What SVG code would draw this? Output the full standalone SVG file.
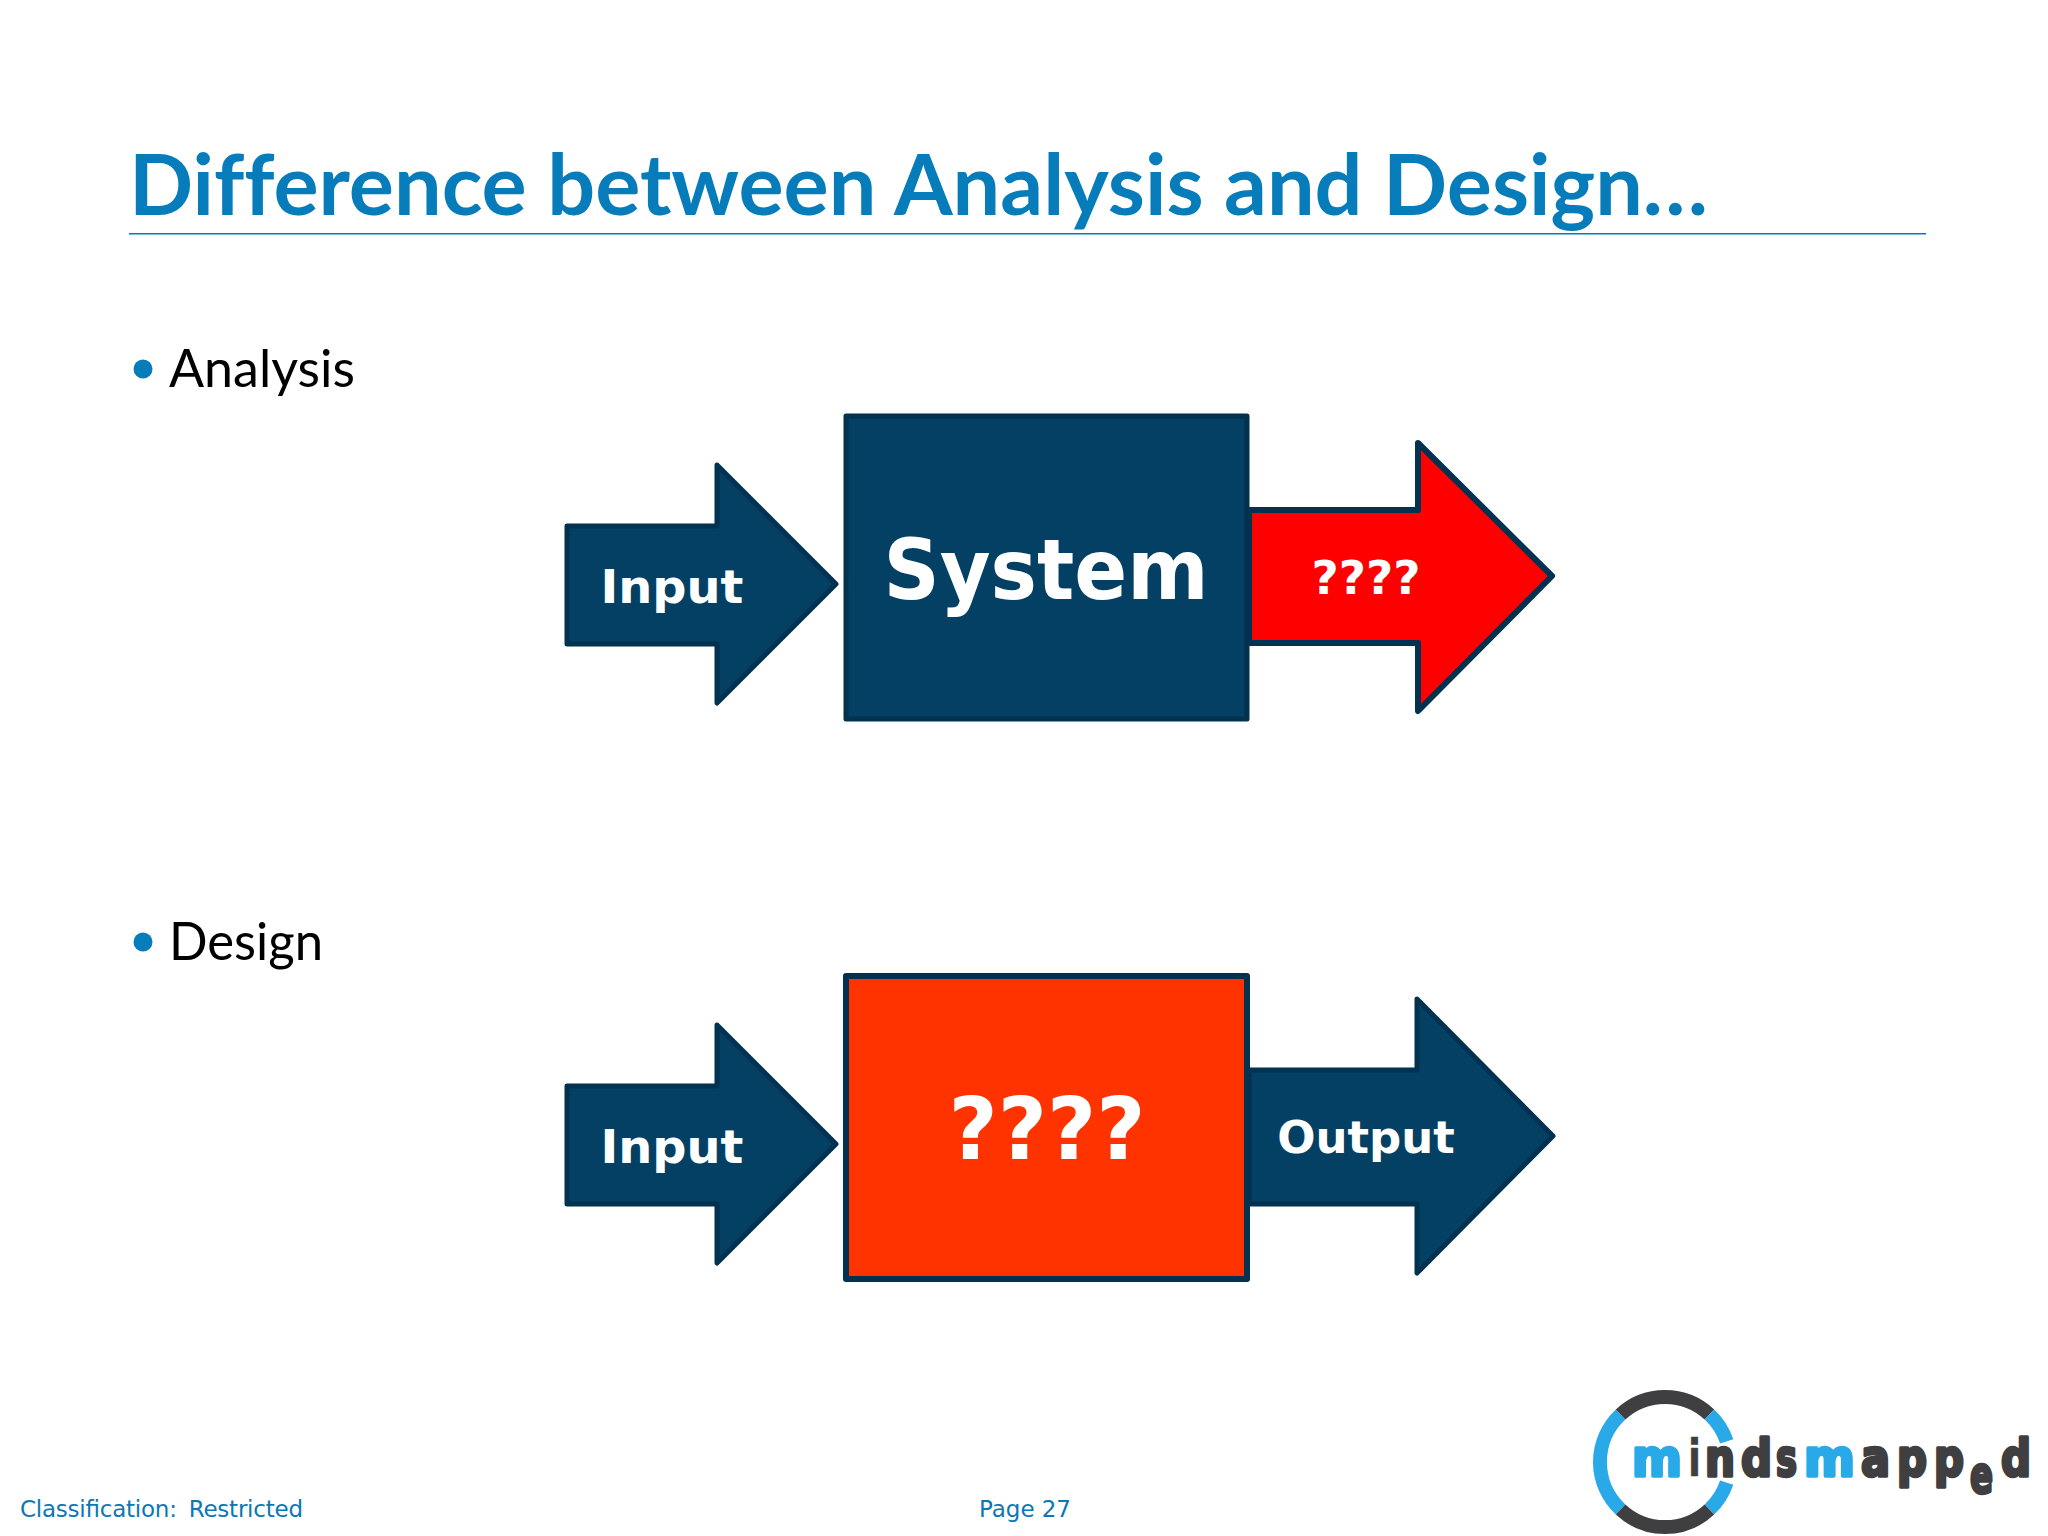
<svg xmlns="http://www.w3.org/2000/svg" width="2048" height="1536" viewBox="0 0 2048 1536">
<style>
.title{font:700 85px Lato,"Open Sans",sans-serif;fill:#067cbb;font-variant-ligatures:none}
.body{font:400 52px Lato,"Open Sans",sans-serif;fill:#000}
.foot{font:400 23px "DejaVu Sans",sans-serif;fill:#0a78b5}
.lbl{font-family:"DejaVu Sans",sans-serif;font-weight:700;fill:#fff;text-anchor:middle}
.navy{fill:#034063;stroke:#02324f;stroke-width:5;stroke-linejoin:round}
.red{fill:#ff0000;stroke:#02324f;stroke-width:6;stroke-linejoin:round}
.orange{fill:#ff3300;stroke:#02324f;stroke-width:6;stroke-linejoin:round}
.ring{fill:none;stroke-width:14}
.logo{font-family:"DejaVu Sans",sans-serif;font-weight:700;font-size:52px;stroke-width:3.5;stroke-linejoin:round}
.lb{fill:#2aa9e8;stroke:#2aa9e8}
.ld{fill:#3f3f42;stroke:#3f3f42}
</style>
<rect width="2048" height="1536" fill="#fff"/>
<g id="header">
<text class="title" x="129" y="215" textLength="1579" lengthAdjust="spacingAndGlyphs">Difference between Analysis and Design…</text>
<rect x="129" y="233" width="1797" height="1.5" fill="#0a78b5"/>
</g>
<g id="bullet-analysis"><circle cx="143" cy="369" r="9.5" fill="#067cbb"/><text class="body" x="169" y="387" textLength="186" lengthAdjust="spacingAndGlyphs">Analysis</text></g>
<g id="bullet-design"><circle cx="143" cy="942" r="9.5" fill="#067cbb"/><text class="body" x="169" y="960" textLength="154" lengthAdjust="spacingAndGlyphs">Design</text></g>
<g id="connectors">
<g id="arrow-input-1"><path class="navy" d="M567 526H717V465L836 584L717 703V644H567Z"/><text class="lbl" x="672" y="603" font-size="47" textLength="143" lengthAdjust="spacingAndGlyphs">Input</text></g>
<g id="arrow-output-1"><path class="red" d="M1249 510H1418V443L1552 576L1418 711V643H1249Z"/><text class="lbl" x="1366" y="594" font-size="47">????</text></g>
<g id="arrow-input-2"><path class="navy" d="M567 1086H717V1025L836 1144L717 1263V1204H567Z"/><text class="lbl" x="672" y="1163" font-size="47" textLength="143" lengthAdjust="spacingAndGlyphs">Input</text></g>
<g id="arrow-output-2"><path class="navy" d="M1249 1070H1417V999L1553 1136L1417 1273V1204H1249Z"/><text class="lbl" x="1366" y="1153" font-size="45">Output</text></g>
</g>
<g id="system"><rect class="navy" x="846" y="416" width="401" height="303"/><text class="lbl" x="1046" y="599" font-size="84" textLength="325" lengthAdjust="spacingAndGlyphs">System</text></g>
<g id="unknown"><rect class="orange" x="846" y="976" width="401" height="303"/><text class="lbl" x="1047" y="1159" font-size="85">????</text></g>
<g id="footer">
<text class="foot" x="20" y="1517" word-spacing="5" textLength="283">Classification: Restricted</text>
<text class="foot" x="979" y="1517" textLength="92">Page 27</text>
</g>
<g id="logo">
<path class="ring" stroke="#2aa9e8" d="M1620.6 1414.5A65 65 0 0 0 1620.6 1509.5"/>
<path class="ring" stroke="#3f3f42" d="M1620.6 1414.5A65 65 0 0 1 1709.4 1414.5"/>
<path class="ring" stroke="#2aa9e8" d="M1709.4 1414.5A65 65 0 0 1 1726.7 1441.4"/>
<path class="ring" stroke="#2aa9e8" d="M1726.7 1482.6A65 65 0 0 1 1709.4 1509.5"/>
<path class="ring" stroke="#3f3f42" d="M1709.4 1509.5A65 65 0 0 1 1620.6 1509.5"/>
<text class="logo lb" x="1632" y="1476" textLength="50" lengthAdjust="spacingAndGlyphs">m</text>
<text class="logo ld" x="1688" y="1476" textLength="13" lengthAdjust="spacingAndGlyphs" style="stroke-width:.5">i</text>
<text class="logo ld" x="1705" y="1476" textLength="30" lengthAdjust="spacingAndGlyphs">n</text>
<text class="logo ld" x="1741" y="1476" textLength="31" lengthAdjust="spacingAndGlyphs">d</text>
<text class="logo ld" x="1776" y="1476" textLength="21" lengthAdjust="spacingAndGlyphs">s</text>
<text class="logo lb" x="1804" y="1476" textLength="51" lengthAdjust="spacingAndGlyphs">m</text>
<text class="logo ld" x="1861" y="1476" textLength="29" lengthAdjust="spacingAndGlyphs">a</text>
<text class="logo ld" x="1897" y="1476" textLength="30" lengthAdjust="spacingAndGlyphs">p</text>
<text class="logo ld" x="1934" y="1476" textLength="30" lengthAdjust="spacingAndGlyphs">p</text>
<text class="logo ld" x="1970" y="1493" font-size="46" textLength="23" lengthAdjust="spacingAndGlyphs">e</text>
<text class="logo ld" x="2001" y="1476" textLength="30" lengthAdjust="spacingAndGlyphs">d</text>
</g>
</svg>
